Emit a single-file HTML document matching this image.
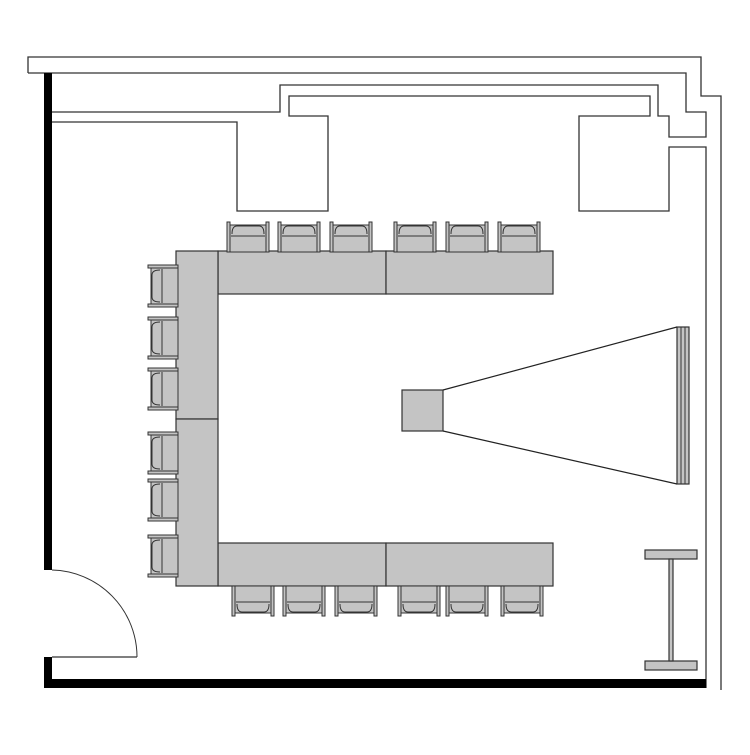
<!DOCTYPE html>
<html><head><style>html,body{margin:0;padding:0;background:#fff}</style></head>
<body>
<svg width="750" height="750" viewBox="0 0 750 750" xmlns="http://www.w3.org/2000/svg">
<defs>
<g id="chT">
<rect x="0" y="0" width="42" height="30" fill="#fff"/>
<rect x="3" y="3" width="36" height="27" fill="#c4c4c4" stroke="#333" stroke-width="1"/>
<rect x="0" y="0" width="3" height="30" fill="#c4c4c4" stroke="#333" stroke-width="1"/>
<rect x="39" y="0" width="3" height="30" fill="#c4c4c4" stroke="#333" stroke-width="1"/>
<path d="M5 12 Q5 4 10 4 L32 4 Q37 4 37 12" fill="none" stroke="#333" stroke-width="1"/>
<line x1="4" y1="14" x2="38" y2="14" stroke="#333" stroke-width="1"/>
</g>
</defs>
<g fill="none" stroke="#333" stroke-width="1.3">
<path d="M28 73 L28 57 L701 57 L701 96 L721 96 L721 690"/>
<path d="M28 73 L686 73 L686 112 L706 112 L706 137 L669 137 L669 116 L658 116 L658 85 L280 85 L280 112 L52 112"/>
<path d="M52 122 L237 122 L237 211 L328 211 L328 116 L289 116 L289 96 L650 96 L650 116 L579 116 L579 211 L669 211 L669 147 L706 147 L706 688"/>
<path d="M52 657 L137 657" />
<path d="M52 570 A87 87 0 0 1 137 657" stroke-width="1"/>
</g>
<rect x="44" y="73" width="8" height="497" fill="#000"/>
<rect x="44" y="657" width="8" height="31" fill="#000"/>
<rect x="44" y="679" width="662" height="9" fill="#000"/>
<g fill="#c4c4c4" stroke="#333" stroke-width="1.2">
<rect x="218" y="251" width="168" height="43"/>
<rect x="386" y="251" width="167" height="43"/>
<rect x="218" y="543" width="168" height="43"/>
<rect x="386" y="543" width="167" height="43"/>
<rect x="176" y="251" width="42" height="168"/>
<rect x="176" y="419" width="42" height="167"/>
<rect x="402" y="390" width="41" height="41"/>
<rect x="677" y="327" width="12" height="157"/>
<rect x="645" y="550" width="52" height="9"/>
<rect x="645" y="661" width="52" height="9"/>
<rect x="669" y="559" width="4" height="102"/>
</g>
<line x1="681" y1="327" x2="681" y2="484" stroke="#333"/>
<line x1="685" y1="327" x2="685" y2="484" stroke="#333"/>
<g stroke="#222" stroke-width="1.2">
<line x1="443" y1="390" x2="677" y2="327"/>
<line x1="443" y1="431" x2="677" y2="484"/>
</g>
<use href="#chT" transform="translate(227,222)"/>
<use href="#chT" transform="translate(278,222)"/>
<use href="#chT" transform="translate(330,222)"/>
<use href="#chT" transform="translate(394,222)"/>
<use href="#chT" transform="translate(446,222)"/>
<use href="#chT" transform="translate(498,222)"/>
<use href="#chT" transform="translate(274,616) rotate(180)"/>
<use href="#chT" transform="translate(325,616) rotate(180)"/>
<use href="#chT" transform="translate(377,616) rotate(180)"/>
<use href="#chT" transform="translate(440,616) rotate(180)"/>
<use href="#chT" transform="translate(488,616) rotate(180)"/>
<use href="#chT" transform="translate(543,616) rotate(180)"/>
<use href="#chT" transform="translate(148,307) rotate(-90)"/>
<use href="#chT" transform="translate(148,359) rotate(-90)"/>
<use href="#chT" transform="translate(148,410) rotate(-90)"/>
<use href="#chT" transform="translate(148,474) rotate(-90)"/>
<use href="#chT" transform="translate(148,521) rotate(-90)"/>
<use href="#chT" transform="translate(148,577) rotate(-90)"/>
</svg>
</body></html>
